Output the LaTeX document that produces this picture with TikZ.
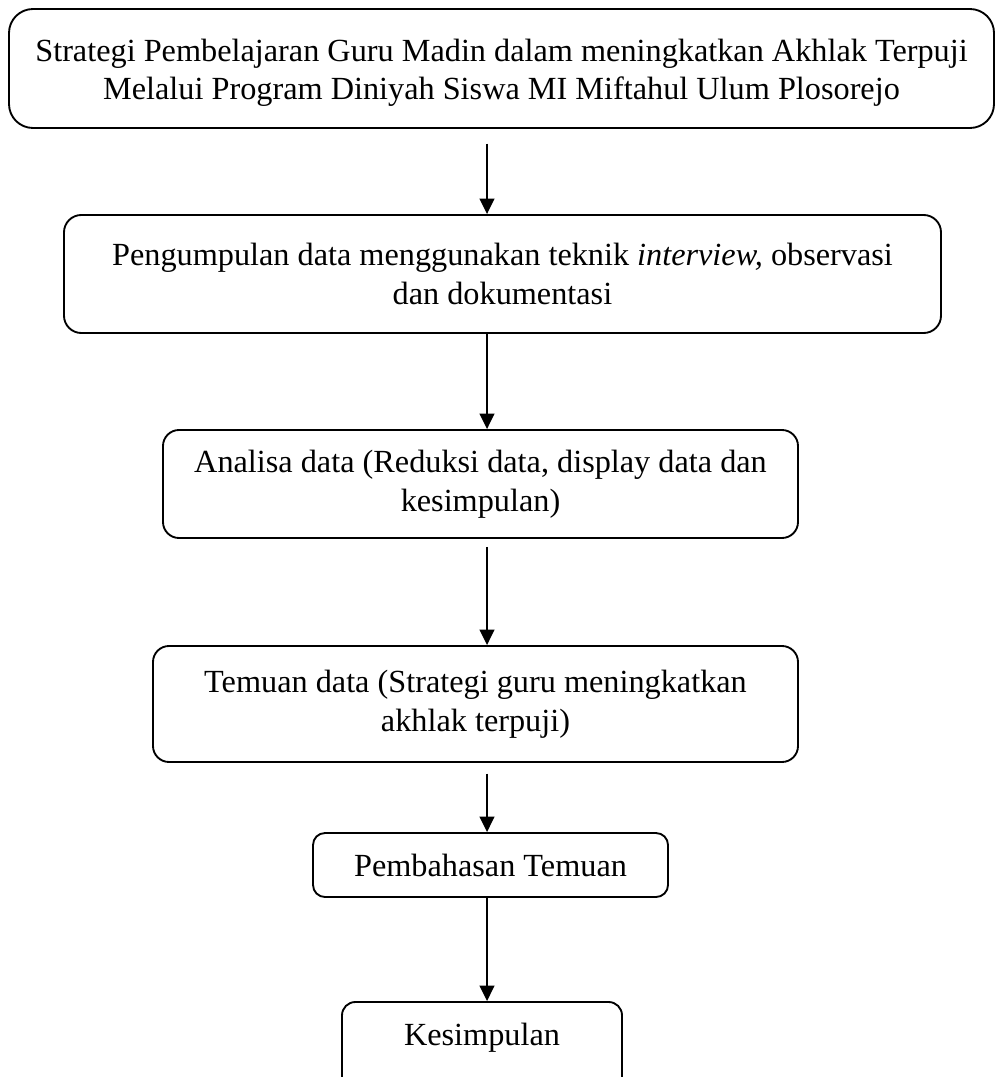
\documentclass[tikz,border=0pt]{standalone}
\usepackage{fontspec}
\setmainfont{Liberation Serif}
\usetikzlibrary{arrows.meta}
\tikzset{
  box/.style={draw, line width=1.4pt, inner sep=0pt, align=center,
    font=\fontsize{24.2}{29}\selectfont},
  arr/.style={line width=1.5pt, -{Triangle[width=11pt,length=11.5pt]}}
}
\begin{document}
\begin{tikzpicture}[x=0.75pt,y=-0.75pt]
\useasboundingbox (0,0) rectangle (995,1077);
\node[box, rounded corners=18pt, minimum width=738.75pt, minimum height=89.25pt] (b1) at (501.5,68.5)
  {\rule{0pt}{23pt}Strategi Pembelajaran Guru Madin dalam meningkatkan Akhlak Terpuji\\Melalui Program Diniyah Siswa MI Miftahul Ulum Plosorejo};
\node[box, rounded corners=13pt, minimum width=657.75pt, minimum height=88.5pt] (b2) at (502.5,274)
  {Pengumpulan data menggunakan teknik \textit{interview,} observasi\\dan dokumentasi};
\node[box, rounded corners=12pt, minimum width=476.25pt, minimum height=81pt] (b3) at (480.5,484)
  {Analisa data (Reduksi data, display data dan\\kesimpulan)};
\node[box, rounded corners=12pt, minimum width=483.75pt, minimum height=87pt] (b4) at (475.5,704)
  {Temuan data (Strategi guru meningkatkan\\akhlak terpuji)};
\node[box, rounded corners=9pt, minimum width=266.25pt, minimum height=48pt] (b5) at (490.5,865)
  {Pembahasan Temuan};
\node[box, rounded corners=10pt, minimum width=210pt, minimum height=75pt] (b6) at (482,1052) {};
\node[box, draw=none] (t6) at (482,1038) {Kesimpulan};
\coordinate (ax) at (487,0);
\draw[arr, shorten <=11pt] (b1.south -| ax) -- (b2.north -| ax);
\draw[arr] (b2.south -| ax) -- (b3.north -| ax);
\draw[arr, shorten <=6pt] (b3.south -| ax) -- (b4.north -| ax);
\draw[arr, shorten <=8pt] (b4.south -| ax) -- (b5.north -| ax);
\draw[arr] (b5.south -| ax) -- (b6.north -| ax);
\end{tikzpicture}
\end{document}
